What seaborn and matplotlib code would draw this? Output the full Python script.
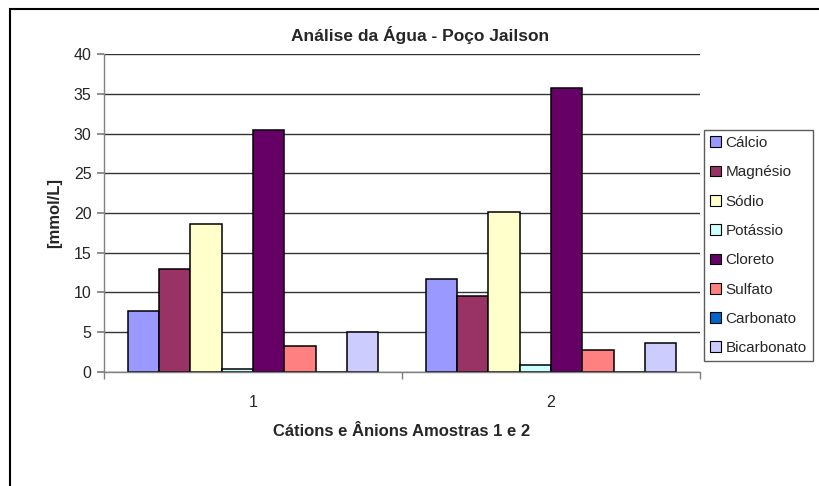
import matplotlib
matplotlib.use("Agg")
import matplotlib.pyplot as plt
import seaborn as sns
import pandas as pd
from matplotlib.patches import Rectangle

# Ion concentrations per sample (mmol/L)
samples = ["1", "2"]
ions = ["Cálcio", "Magnésio", "Sódio", "Potássio", "Cloreto", "Sulfato",
        "Carbonato", "Bicarbonato"]
sample1 = [7.7, 12.9, 18.6, 0.3, 30.4, 3.3, 0.0, 5.0]
sample2 = [11.7, 9.6, 20.1, 0.8, 35.7, 2.7, 0.0, 3.6]
colors = ["#9999FF", "#993366", "#FFFFCC", "#CCFFFF", "#660066", "#FF8080",
          "#0066CC", "#CCCCFF"]
yticks = [0, 5, 10, 15, 20, 25, 30, 35, 40]

rows = []
for s, vals in zip(samples, [sample1, sample2]):
    for ion, v in zip(ions, vals):
        rows.append({"Amostra": s, "Íon": ion, "Valor": v})
df = pd.DataFrame(rows)

sns.set_theme(style="white")
plt.rcParams["font.family"] = ["Liberation Sans", "DejaVu Sans"]

fig = plt.figure(figsize=(8.2, 4.86), dpi=100)
ax_w, ax_h = 596 / 820, 317.4 / 486
ax = fig.add_axes([104 / 820, 1 - 371.7 / 486, ax_w, ax_h])

sns.barplot(data=df, x="Amostra", y="Valor", hue="Íon", hue_order=ions,
            palette=colors, width=0.84, gap=0, edgecolor="black",
            linewidth=1.1, saturation=1, errorbar=None, ax=ax)

ax.set_xlim(-0.5, 1.5)
ax.set_ylim(0, 40)
ax.set_yticks(yticks)
ax.yaxis.grid(True, color="#333333", linewidth=1.0)
ax.set_axisbelow(True)
for side in ["top", "right"]:
    ax.spines[side].set_visible(False)
ax.spines["left"].set_color("#808080")
ax.spines["bottom"].set_color("#808080")
ax.spines["left"].set_linewidth(1.0)
ax.spines["bottom"].set_linewidth(1.0)

ax.tick_params(axis="y", which="major", direction="out", length=5,
               color="#808080", labelsize=11.5, pad=4, left=True)
ax.tick_params(axis="x", which="major", length=0, labelsize=11.5, pad=17)
ax.set_xticks([-0.5, 0.5, 1.5], minor=True)
ax.tick_params(axis="x", which="minor", direction="out", length=5,
               color="#808080", bottom=True)

ax.set_xlabel("Cátions e Ânions Amostras 1 e 2", fontsize=12,
              fontweight="bold", labelpad=10)
ax.set_ylabel("[mmol/L]", fontsize=12, fontweight="bold", labelpad=8)
fig.text(420 / 820, 1 - 35 / 486, "Análise da Água - Poço Jailson",
         ha="center", va="center", fontsize=12.5, fontweight="bold")

leg = ax.legend(loc="upper left",
                bbox_to_anchor=((704 - 104) / 596, (371.7 - 130) / 317.4),
                frameon=True, fancybox=False, edgecolor="#333333",
                fontsize=11, handlelength=0.7, handleheight=0.7,
                handletextpad=0.3, labelspacing=1.0, borderpad=0.4,
                borderaxespad=0)
leg.get_frame().set_linewidth(1.0)
for h in leg.legend_handles:
    h.set_edgecolor("black")
    h.set_linewidth(0.8)

# Chart area frame
fig.patches.append(Rectangle((10 / 820, -0.1), 1.0, 1 - 9 / 486 + 0.1,
                             transform=fig.transFigure, fill=False,
                             edgecolor="black", linewidth=1.5))

fig.savefig("out.png", dpi=100)
